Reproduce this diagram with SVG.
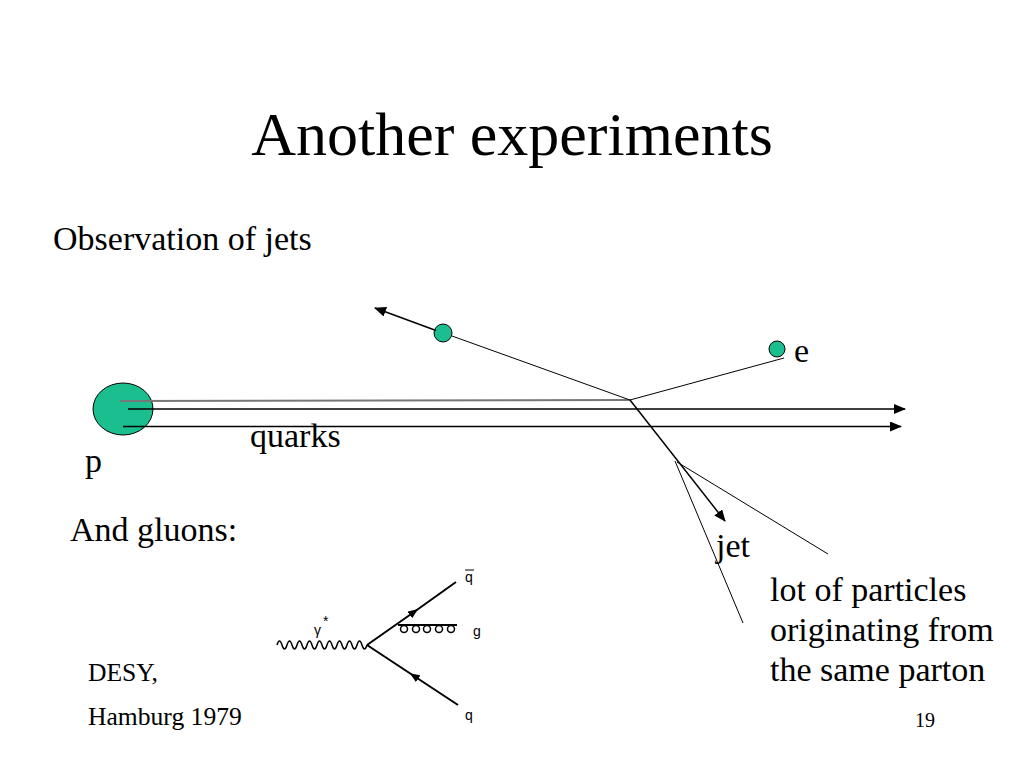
<svg xmlns="http://www.w3.org/2000/svg" width="1024" height="768" viewBox="0 0 1024 768">
<defs>
<marker id="arr" markerWidth="12" markerHeight="10" refX="11" refY="5" orient="auto" markerUnits="userSpaceOnUse"><path d="M0,0 L12,5 L0,10 Z" fill="#000"/></marker>
<marker id="arrm" markerWidth="10" markerHeight="8" refX="5" refY="4" orient="auto" markerUnits="userSpaceOnUse"><path d="M0,0 L10,4 L0,8 Z" fill="#000"/></marker>
</defs>
<style>
.t{font-family:"Liberation Serif","DejaVu Serif",serif;fill:#000}
.b{font-size:34px}
.s{font-size:25.6px}
.f{font-family:"Liberation Sans","DejaVu Sans",sans-serif;font-size:14px;fill:#000}
.ln{stroke:#000;stroke-width:1.5;fill:none}
.fl{stroke:#000;stroke-width:2;fill:none}
.th{stroke:#000;stroke-width:1;fill:none}
.dot{fill:#1BBF8F;stroke:#000;stroke-width:1}
</style>
<rect width="1024" height="768" fill="#fff"/>
<text class="t" font-family="Liberation Serif, serif" x="512" y="155" font-size="62" text-anchor="middle">Another experiments</text>
<text class="t b" font-family="Liberation Serif, serif" x="53" y="250">Observation of jets</text>

<g id="proton">
<ellipse class="dot" cx="123" cy="409" rx="30" ry="26"/>
<text class="t b" font-family="Liberation Serif, serif" x="85" y="472">p</text>
</g>
<g id="electron-in">
<circle class="dot" cx="443" cy="333" r="9"/>
</g>
<g id="electron-out">
<circle class="dot" cx="777" cy="349" r="8"/>
<text class="t b" font-family="Liberation Serif, serif" x="794" y="362">e</text>
</g>

<g id="connectors">
<line x1="120" y1="401" x2="630" y2="400" stroke="#777" stroke-width="2"/>
<line class="ln" x1="128" y1="409" x2="905" y2="409" marker-end="url(#arr)"/>
<line class="ln" x1="123" y1="426.5" x2="901" y2="426.5" marker-end="url(#arr)"/>
<line class="ln" x1="436" y1="330.5" x2="375" y2="308" marker-end="url(#arr)"/>
<line class="th" x1="452" y1="336" x2="630" y2="400"/>
<line class="th" x1="784" y1="358" x2="630" y2="400"/>
<line class="ln" x1="630" y1="400" x2="725" y2="521" marker-end="url(#arr)"/>
<line class="th" x1="675" y1="461" x2="743" y2="623"/>
<line class="th" x1="677" y1="462" x2="828" y2="554"/>
</g>

<text class="t b" font-family="Liberation Serif, serif" x="250" y="447">quarks</text>
<text class="t b" font-family="Liberation Serif, serif" x="716" y="557">jet</text>
<text class="t b" font-family="Liberation Serif, serif" x="70" y="541">And gluons:</text>
<text class="t b" font-family="Liberation Serif, serif" x="770" y="601">lot of particles</text>
<text class="t b" font-family="Liberation Serif, serif" x="770" y="641">originating from</text>
<text class="t b" font-family="Liberation Serif, serif" x="770" y="681">the same parton</text>
<text class="t s" font-family="Liberation Serif, serif" x="88" y="681">DESY,</text>
<text class="t s" font-family="Liberation Serif, serif" x="88" y="725">Hamburg 1979</text>
<text class="t" font-family="Liberation Serif, serif" x="915" y="727" font-size="20">19</text>

<g id="feynman">
<path class="ln" d="M277,645 q2.5,-8 5,0 t5,0 t5,0 t5,0 t5,0 t5,0 t5,0 t5,0 t5,0 t5,0 t5,0 t5,0 t5,0 t5,0 t5,0 t5,0 t5,0 t5,0"/>
<polyline class="fl" points="367,645 414,612 456,582" marker-mid="url(#arrm)"/>
<polyline class="fl" points="458,705 414,676 367,645" marker-mid="url(#arrm)"/>
<line class="fl" x1="398" y1="625" x2="457" y2="625"/>
<circle class="ln" cx="404" cy="629" r="3.5"/>
<circle class="ln" cx="416" cy="629" r="3.5"/>
<circle class="ln" cx="427" cy="629" r="3.5"/>
<circle class="ln" cx="439" cy="629" r="3.5"/>
<circle class="ln" cx="451" cy="629" r="3.5"/>
<text class="f" x="314" y="635">γ</text>
<text class="f" x="323" y="626" font-size="9">*</text>
<text class="f" x="465" y="582">q</text>
<line x1="465" y1="570" x2="474" y2="570" stroke="#000" stroke-width="1"/>
<text class="f" x="473" y="636">g</text>
<text class="f" x="465" y="720">q</text>
</g>
</svg>
